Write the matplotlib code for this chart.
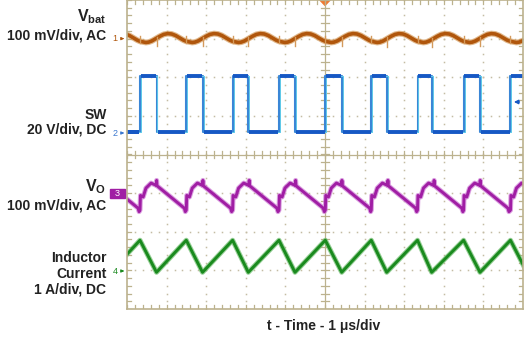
import matplotlib
matplotlib.use("Agg")
import numpy as np
import matplotlib.pyplot as plt
from matplotlib.patches import Rectangle, Polygon

# ==== trace data: time in us, values in channel units ====
# switch node edges (one pulse starts just left of the screen)
SW_RISE = [-5.84, -4.672, -3.503, -2.333, -1.162, 0.008, 1.169, 2.336, 3.500, 4.684]
SW_FALL = [-5.42, -4.255, -3.093, -1.937, -0.758, 0.422, 1.558, 2.694, 3.914, 5.100]
SW_LOW, SW_HIGH = 0.4, 29.2  # V

# battery ripple over one period, offset from each SW rise (mV, AC)
VBAT_T = [0.0, 0.15, 0.22, 0.3, 0.4, 0.5, 0.6, 0.7, 0.8, 0.9, 1.0, 1.1]
VBAT_MV = [-7, -10, -9, -6, 0, 6, 11, 13, 12, 8, 2, -4]
VBAT_SPIKE_RISE = 14
VBAT_SPIKE_FALL = -20

# output ripple over one period, offset from each SW rise (mV, AC)
VO_T = [0.0, 0.012, 0.08, 0.15, 0.28, 0.41, 0.42, 0.43, 1.12, 1.145]
VO_MV = [-44, -6, -10, 13, 26, 20, 33, 19, -39, -48]

# inductor current at the peak (SW rise) and valley (SW fall), A
IL_PEAK, IL_VALLEY = 0.78, -0.05

# channel ground marker (div) and volts/div
OFFSET = {1: 3.0, 2: 0.56, 3: -1.0, 4: -3.0}
SCALE = {1: 100, 2: 20, 3: 100, 4: 1}

C1, C1_LIGHT = "#b0560c", "#d49a5c"
C2, C2_EDGE, C2_CYAN = "#1658c4", "#3a86d6", "#5cc8e8"
C3, C3_LIGHT = "#a01ea4", "#cc78d4"
C4, C4_LIGHT = "#1a8a1e", "#6cbc6c"
TAN = "#bcb28e"
DOT = "#c4bca4"
TXT = "#222222"

W, H = 524, 338
plt.rcParams["font.family"] = ["Liberation Sans", "DejaVu Sans"]
plt.rcParams["mathtext.fontset"] = "custom"
plt.rcParams["mathtext.bf"] = "Liberation Sans:bold"
plt.rcParams["mathtext.rm"] = "Liberation Sans:bold"


def fpos(x, y):
    return x / W, 1 - y / H


def to_div(ch, vals):
    return OFFSET[ch] + np.asarray(vals, dtype=float) / SCALE[ch]


fig = plt.figure(figsize=(W / 100, H / 100), dpi=100)
ax = fig.add_axes([127 / W, 29 / H, 396 / W, 309 / H])
ax.set_xlim(-5, 5)
ax.set_ylim(-4, 4)
ax.set_xticks([])
ax.set_yticks([])
for s in ax.spines.values():
    s.set_color(TAN)
    s.set_linewidth(1.2)

# ---- graticule ----
minor_x = np.arange(-5, 5.001, 0.2)
minor_y = np.arange(-4, 4.001, 0.2)
for gx in range(-4, 5):
    if gx != 0:
        ax.plot(np.full_like(minor_y, gx), minor_y, ls="none", marker="s", ms=1.1, mec="none", mfc=DOT)
for gy in range(-3, 4):
    if gy != 0:
        ax.plot(minor_x, np.full_like(minor_x, gy), ls="none", marker="s", ms=1.1, mec="none", mfc=DOT)
ax.axhline(0, color=TAN, lw=0.9)
ax.axvline(0, color=TAN, lw=0.9)
tx = 4 / 39.6  # tick half-length in us
ty = 3.5 / 38.6  # tick half-length in div
for x in minor_x:
    ax.plot([x, x], [-ty, ty], color=TAN, lw=0.9)
    ax.plot([x, x], [4, 4 - ty], color=TAN, lw=0.9)
    ax.plot([x, x], [-4, -4 + ty], color=TAN, lw=0.9)
for y in minor_y:
    ax.plot([-tx, tx], [y, y], color=TAN, lw=0.9)
    ax.plot([-5, -5 + tx], [y, y], color=TAN, lw=0.9)
    ax.plot([5, 5 - tx], [y, y], color=TAN, lw=0.9)

# ---- CH1: battery ripple ----
t1 = np.concatenate([r + np.array(VBAT_T) for r in SW_RISE])
v1 = np.tile(VBAT_MV, len(SW_RISE))
ax.plot(t1, to_div(1, v1), color=C1_LIGHT, lw=4.2, alpha=0.7, solid_capstyle="butt")
ax.plot(t1, to_div(1, v1), color=C1, lw=2.6)
for r in SW_RISE:
    base = np.interp(r, t1, v1)
    ax.plot([r, r], to_div(1, [base - 4, base + VBAT_SPIKE_RISE]), color=C1_LIGHT, lw=1.0)
for f in SW_FALL:
    base = np.interp(f, t1, v1)
    ax.plot([f, f], to_div(1, [base + 4, base + VBAT_SPIKE_FALL]), color=C1_LIGHT, lw=1.0)

# ---- CH2: switch node ----
t2, v2 = [], []
for r, f in zip(SW_RISE, SW_FALL):
    t2 += [r, r, f, f]
    v2 += [SW_LOW, SW_HIGH, SW_HIGH, SW_LOW]
ax.plot(t2, to_div(2, v2), color=C2_EDGE, lw=1.5)
ax.plot(np.asarray(t2) + 0.025, to_div(2, v2), color=C2_CYAN, lw=0.7)
for r, f in zip(SW_RISE, SW_FALL):
    ax.plot([r + 0.02, f - 0.02], to_div(2, [SW_HIGH, SW_HIGH]), color=C2, lw=2.8, solid_capstyle="butt")
for f, r in zip(SW_FALL[:-1], SW_RISE[1:]):
    ax.plot([f + 0.03, r - 0.02], to_div(2, [SW_LOW, SW_LOW]), color=C2, lw=2.8, solid_capstyle="butt")
ax.plot([-5, SW_RISE[1] - 0.02], to_div(2, [SW_LOW, SW_LOW]), color=C2, lw=2.8, solid_capstyle="butt")

# ---- CH3: output ripple ----
t3 = np.concatenate([r + np.array(VO_T) for r in SW_RISE])
v3 = np.tile(VO_MV, len(SW_RISE))
ax.plot(t3, to_div(3, v3), color=C3_LIGHT, lw=3.6, alpha=0.7)
ax.plot(t3, to_div(3, v3), color=C3, lw=2.1)

# ---- CH4: inductor current ----
t4, v4 = [], []
for r, f in zip(SW_RISE, SW_FALL):
    t4 += [r, f]
    v4 += [IL_PEAK, IL_VALLEY]
ax.plot(t4, to_div(4, v4), color=C4_LIGHT, lw=3.6, alpha=0.7)
ax.plot(t4, to_div(4, v4), color=C4, lw=2.1)

# ---- trigger markers ----
ax.add_patch(Polygon([[-0.13, 4], [0.13, 4], [0, 3.86]], closed=True, color="#f07a30", clip_on=False))
ax.annotate("", xy=(4.70, 1.36), xytext=(4.98, 1.36),
            arrowprops=dict(arrowstyle="-|>", color=C2, lw=1.0, mutation_scale=6))

# ---- channel ground markers ----
for ch, y, c in [(1, 38.6, C1), (2, 133, "#3a78d0"), (4, 271, C4)]:
    fig.text(*fpos(117.5, y), str(ch), color=c, fontsize=6.5, ha="right", va="center")
    ax.annotate("", xy=fpos(127, y), xytext=fpos(119, y), xycoords="figure fraction",
                textcoords="figure fraction",
                arrowprops=dict(arrowstyle="-|>", color=c, lw=0.8, mutation_scale=4))
x0, y0 = fpos(110, 198)
fig.add_artist(Rectangle((x0, y0), 15 / W, 9 / H, transform=fig.transFigure, color=C3))
fig.text(*fpos(117, 193.5), "3", color="white", fontsize=6.5, ha="center", va="center")
ax.annotate("", xy=fpos(127.5, 193), xytext=fpos(120, 193), xycoords="figure fraction",
            textcoords="figure fraction",
            arrowprops=dict(arrowstyle="-|>", color="white", lw=0.8, mutation_scale=4))

# ---- channel labels ----
lab = dict(color=TXT, fontsize=10, fontweight="bold", ha="right", va="center")
fig.text(*fpos(106.5, 17), r"$\mathbf{V_{bat}}$", color=TXT, fontsize=11.5, ha="right", va="center")
fig.text(*fpos(106.5, 36), "100 mV/div, AC", **lab)
fig.text(*fpos(106.5, 115), "SW", **lab)
fig.text(*fpos(106.5, 129), "20 V/div, DC", **lab)
fig.text(*fpos(106.5, 187), r"$\mathbf{V_{O}}$", color=TXT, fontsize=11.5, ha="right", va="center")
fig.text(*fpos(106.5, 206), "100 mV/div, AC", **lab)
fig.text(*fpos(106.5, 258), "Inductor", **lab)
fig.text(*fpos(106.5, 274), "Current", **lab)
fig.text(*fpos(106.5, 289), "1 A/div, DC", **lab)
fig.text(*fpos(324, 326), "t - Time - 1 \u03bcs/div", color=TXT, fontsize=10, fontweight="bold",
         ha="center", va="center")

fig.savefig("out.png", dpi=100)
